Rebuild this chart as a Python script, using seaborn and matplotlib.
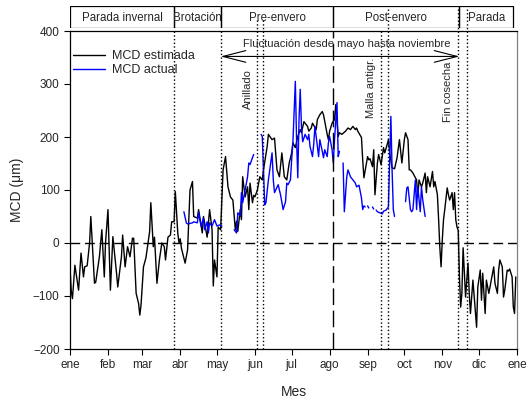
import numpy as np
import pandas as pd
import matplotlib
matplotlib.use('Agg')
import matplotlib.pyplot as plt
from matplotlib.patches import Rectangle
import seaborn as sns

# 数据: 日序 (0 = 1 de enero) y MCD (µm)
dias_est = [0, 1, 2, 4, 7, 9, 11, 12, 14, 16, 17, 20, 21, 24, 26, 28, 29, 31, 33, 35,
            38, 39, 42, 43, 45, 47, 49, 51, 52, 54, 56, 57, 58, 60, 62, 65, 66, 68, 69, 71,
            73, 75, 77, 78, 80, 82, 83, 85, 86, 88, 89, 90, 91, 94, 96, 98, 100, 101, 104, 105,
            108, 109, 112, 114, 116, 117, 118, 120, 121, 123, 125, 127, 129, 131, 133, 135, 136, 137, 139, 140,
            141, 143, 145, 146, 147, 149, 150, 151, 153, 155, 157, 158, 161, 162, 165, 167, 169, 171, 173, 175,
            177, 179, 181, 182, 184, 186, 188, 189, 191, 194, 195, 197, 198, 201, 202, 204, 206, 207, 210, 211,
            212, 214, 216, 217, 219, 220, 222, 225, 227, 229, 231, 233, 234, 235, 238, 239, 240, 243, 244, 245,
            247, 248, 249, 251, 252, 254, 256, 257, 259, 260, 261, 263, 265, 267, 269, 271, 273, 274, 276, 277,
            278, 280, 283, 284, 285, 287, 288, 290, 291, 292, 294, 296, 297, 298, 300, 301, 302, 303, 304, 305,
            306, 308, 309, 310, 312, 313, 314, 315, 316, 317, 318, 319, 320, 321, 322, 323, 325, 326, 327, 329,
            332, 333, 335, 336, 337, 339, 340, 342, 345, 346, 347, 349, 350, 351, 353, 354, 355, 357, 358, 359,
            361, 362, 363, 364]
mcd_est = [-45, -90, -105, -42, -89, -19, -64, -45, -43, 0, 50, -76, -74, -26, 25, -64, 0, 63, -89, 12,
           -57, -83, -26, 15, -45, -7, -26, 9, 9, -95, -114, -136, -117, -45, -28, 21, 76, -7, 11, -76,
           -32, 0, -7, -32, 11, 15, 40, 40, 97, 19, 0, 8, -10, -38, -13, 100, 116, 50, 47, 63,
           19, 50, 11, 63, 25, -81, -32, -64, 30, 25, 138, 163, 106, 87, 81, 25, 41, 22, 63, 44,
           125, 87, 106, 63, 113, 76, 90, 87, 100, 125, 119, 138, 182, 205, 195, 198, 138, 125, 170, 125,
           119, 151, 170, 189, 180, 201, 214, 208, 229, 220, 211, 217, 226, 214, 233, 242, 248, 242, 205, 195,
           211, 226, 233, 261, 201, 208, 205, 211, 217, 214, 220, 214, 217, 211, 199, 157, 123, 163, 157, 159,
           144, 176, 91, 151, 167, 148, 180, 170, 186, 195, 170, 142, 140, 160, 195, 151, 195, 208, 195, 138,
           138, 132, 119, 87, 119, 106, 113, 132, 95, 125, 106, 135, 106, 116, 91, 44, -9, -45, 6, 44,
           63, 104, 91, 81, 95, 63, 95, 44, 30, 24, -64, -121, -95, -9, -57, -102, -38, -95, -133, -70,
           -159, -83, -51, -108, -57, -133, -70, -95, -57, -45, -76, -95, -51, -32, -45, -102, -89, -51, -53, -49,
           -64, -121, -133, -64]

# MCD actual: tramos con datos (huecos entre ellos)
dias_act = [
    [93, 95, 96, 100, 101, 104, 105, 107, 109, 110, 112, 113, 114, 116, 118, 120, 122, 124],
    [134, 136, 137, 139, 140, 141, 143, 145, 146, 147, 149, 150],
    [156, 157, 159, 160, 162, 165, 166, 167, 170, 172, 174, 176, 177, 178, 180, 181, 182, 184, 185, 186,
     187, 188, 189, 190, 192, 194, 195, 196, 198, 199, 200, 202, 203, 204, 206, 207, 208, 210, 211, 212,
     214, 215, 216, 218, 219, 220],
    [223, 224, 226, 227, 229, 231, 233, 234, 236, 238, 239, 240, 241],
    [243, 244],
    [247, 248],
    [250, 251, 253, 255, 256, 258, 260, 262, 263, 264, 265],
    [274, 275, 276, 278, 279, 280, 282, 283, 284, 286, 287, 288, 290],
]
mcd_act = [
    [59, 38, 36, 38, 40, 38, 57, 32, 47, 25, 40, 19, 38, 32, 44, 32, 34, 32],
    [25, 19, 57, 51, 95, 76, 100, 125, 151, 148, 161, 167],
    [205, 201, 72, 76, 119, 170, 119, 95, 110, 90, 63, 78, 113, 110, 119, 157, 189, 305, 195, 123,
     233, 290, 220, 191, 205, 195, 205, 182, 163, 186, 220, 182, 163, 195, 173, 161, 176, 163, 189, 201,
     176, 151, 195, 265, 163, 173],
    [151, 59, 125, 138, 125, 119, 113, 106, 109, 85, 63, 70, 68],
    [70, 66],
    [68, 64],
    [62, 59, 57, 55, 60, 62, 68, 239, 138, 63, 50],
    [78, 104, 106, 63, 59, 63, 119, 63, 106, 59, 106, 82, 50],
]

meses_pos = [0, 31, 59, 90, 120, 151, 181, 212, 243, 273, 304, 334, 365]
meses = ['ene', 'feb', 'mar', 'abr', 'may', 'jun', 'jul', 'ago', 'sep', 'oct', 'nov', 'dic', 'ene']

fases = ['Parada invernal', 'Brotación', 'Pre-envero', 'Post-envero', 'Parada']
fases_lim = [0, 85, 123, 215, 318, 362]

eventos = [153, 158, 254, 260, 317, 324]
eventos_txt = [(145, 290, 'Anillado'), (246, 292, 'Malla antigr.'), (309, 286, 'Fin cosecha')]

# 合并数据
df_est = pd.DataFrame({'dia': dias_est, 'MCD': mcd_est, 'serie': 'MCD estimada', 'tramo': 0})
partes = [df_est]
for i, (d, v) in enumerate(zip(dias_act, mcd_act)):
    partes.append(pd.DataFrame({'dia': d, 'MCD': v, 'serie': 'MCD actual', 'tramo': i + 1}))
df = pd.concat(partes, ignore_index=True)

sns.set_style('ticks')
plt.rcParams['font.family'] = ['Liberation Sans', 'DejaVu Sans']

fig = plt.figure(figsize=(5.27, 4.05), dpi=100)
ax = fig.add_axes([70 / 527, 1 - 349 / 405, 447 / 527, 318 / 405])

sns.lineplot(data=df, x='dia', y='MCD', hue='serie', units='tramo', estimator=None,
             hue_order=['MCD estimada', 'MCD actual'],
             palette={'MCD estimada': 'black', 'MCD actual': '#0000ff'},
             linewidth=1.0, ax=ax)

ax.set_xlim(0, 365)
ax.set_ylim(-200, 400)
ax.set_xticks(meses_pos)
ax.set_xticklabels(meses)
ax.set_yticks(range(-200, 401, 100))
ax.tick_params(labelsize=8.5, length=4, width=0.8, color='black')
ax.set_xlabel('Mes', fontsize=10, labelpad=10)
ax.set_ylabel('MCD (μm)', fontsize=10, labelpad=6)
for s in ax.spines.values():
    s.set_linewidth(0.9)
    s.set_color('black')
ax.spines['right'].set_color('#808080')

# 参考线
ax.axhline(0, color='black', lw=1.0, ls=(0, (7, 3.5)))
ax.axvline(215, color='black', lw=1.0, ls=(0, (12, 4)))
for d in [85, 123]:
    ax.axvline(d, color='black', lw=1.0, ls=':')
for d, top in zip(eventos, [1.035, 1.035, 1.0, 1.07, 1.075, 1.075]):
    ax.axvline(d, ymin=0, ymax=top, color='black', lw=1.0, ls=':', clip_on=False)

for x, y, t in eventos_txt:
    ax.text(x, y, t, rotation=90, ha='center', va='center', fontsize=8)

ax.annotate('', xy=(123, 352), xytext=(318, 352),
            arrowprops=dict(arrowstyle='<->,head_length=1.65,head_width=0.42',
                            lw=0.8, color='black', shrinkA=0, shrinkB=0, mutation_scale=10))
ax.text(226, 375, 'Fluctuación desde mayo hasta noviembre', ha='center', va='center',
        fontsize=8)

h, l = ax.get_legend_handles_labels()
ax.legend(h, l, loc='upper left', bbox_to_anchor=(-0.005, 0.955), frameon=False,
          fontsize=9, handlelength=2.6, handletextpad=0.5, labelspacing=0.15, borderaxespad=0)

# 物候期方框
axb = fig.add_axes([70 / 527, 1 - 28 / 405, 447 / 527, 22 / 405])
axb.set_xlim(0, 365)
axb.set_ylim(0, 1)
axb.axis('off')
for nombre, a, b in zip(fases, fases_lim[:-1], fases_lim[1:]):
    axb.add_patch(Rectangle((a, 0), b - a, 1, fill=False, lw=0.9, edgecolor='black'))
    axb.text((a + b) / 2, 0.45, nombre, ha='center', va='center', fontsize=8.3)

fig.savefig('out.png', dpi=100)
